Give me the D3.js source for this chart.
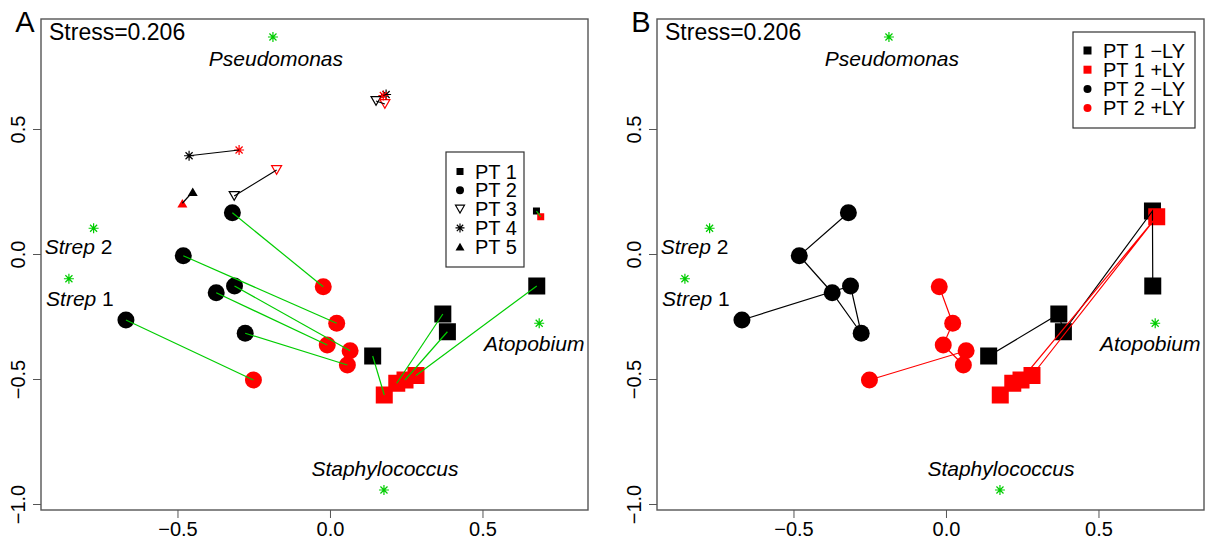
<!DOCTYPE html>
<html>
<head>
<meta charset="utf-8">
<script src="https://cdn.jsdelivr.net/npm/d3@7"></script>
<style>
    body { margin: 0; background: #fff; }
    svg { display: block; font-family: "Liberation Sans", Arial, sans-serif; }
</style>
</head>
<body>
<svg id="drawing_region"></svg>
<script>
// NMDS scores, one [x, y] pair per sample, -LY / +LY paired by index
const pt1Minus = [[0.140,-0.408],[0.370,-0.240],[0.385,-0.311],[0.677,0.172],[0.678,-0.128]];
const pt1Plus  = [[0.178,-0.564],[0.219,-0.517],[0.246,-0.504],[0.691,0.149],[0.282,-0.486]];
const pt2Minus = [[-0.320,0.165],[-0.481,-0.007],[-0.373,-0.155],[-0.278,-0.317],[-0.313,-0.128],[-0.669,-0.264]];
const pt2Plus  = [[-0.022,-0.131],[0.022,-0.277],[-0.009,-0.364],[0.057,-0.444],[0.066,-0.387],[-0.251,-0.504]];
const pt3Minus = [[-0.314,0.232],[0.151,0.612]];
const pt3Plus  = [[-0.175,0.336],[0.180,0.600]];
const pt4Minus = [[-0.462,0.393],[0.184,0.638]];
const pt4Plus  = [[-0.298,0.416],[0.175,0.634]];
const pt5Minus = [[-0.450,0.249]];
const pt5Plus  = [[-0.484,0.203]];

const speciesNames = ["Pseudomonas","Strep 2","Strep 1","Atopobium","Staphylococcus"];
const speciesX = [-0.187,-0.775,-0.856,0.686,0.177];
const speciesY = [0.868,0.103,-0.099,-0.277,-0.944];

const legendLabelsA = ["PT 1","PT 2","PT 3","PT 4","PT 5"];
const legendLabelsB = ["PT 1 \u2212LY","PT 1 +LY","PT 2 \u2212LY","PT 2 +LY"];
const xTicks = [-0.5, 0.0, 0.5];
const yTicks = [-1.0, -0.5, 0.0, 0.5];
const stressText = "Stress=0.206";

const patients = [
    {shape:'square', minus:pt1Minus, plus:pt1Plus},
    {shape:'circle', minus:pt2Minus, plus:pt2Plus},
    {shape:'triDown', minus:pt3Minus, plus:pt3Plus},
    {shape:'star', minus:pt4Minus, plus:pt4Plus},
    {shape:'triUp', minus:pt5Minus, plus:pt5Plus}
];

// label placement around each species star (pixels)
const labelOffset = {
    "Pseudomonas":[3,21], "Strep 2":[-15,18], "Strep 1":[11,19],
    "Atopobium":[-5,20], "Staphylococcus":[1,-22]
};

const GREEN = '#00cd00', RED = '#ff0000', BLACK = '#000000';
const BIG = 17;

const svg = d3.select('#drawing_region')
    .attr('width', 1210)
    .attr('height', 543);

const config = { width: 547, height: 491, top: 19 };

const xscale = d3.scaleLinear().domain([-0.9475, 0.846]).range([0, config.width]);
const yscale = d3.scaleLinear().domain([-1.024, 0.94]).range([config.height, 0]);

function starPath(r) {
    const a = r * 0.7071;
    return `M${-r},0L${r},0M0,${-r}L0,${r}M${-a},${-a}L${a},${a}M${-a},${a}L${a},${-a}`;
}

function drawMark(g, shape, x, y, size, color) {
    if (shape === 'square') {
        g.append('rect')
            .attr('x', x - size/2).attr('y', y - size/2)
            .attr('width', size).attr('height', size)
            .attr('fill', color);
    } else if (shape === 'circle') {
        g.append('circle')
            .attr('cx', x).attr('cy', y).attr('r', size/2)
            .attr('fill', color);
    } else if (shape === 'triDown') {
        const h = size * 0.866;
        g.append('path')
            .attr('d', `M${x - size/2},${y - h/2}L${x + size/2},${y - h/2}L${x},${y + h/2}Z`)
            .attr('fill', 'none').attr('stroke', color).attr('stroke-width', 1.2);
    } else if (shape === 'triUp') {
        const h = size * 0.866;
        g.append('path')
            .attr('d', `M${x - size/2},${y + h/2}L${x + size/2},${y + h/2}L${x},${y - h/2}Z`)
            .attr('fill', color);
    } else if (shape === 'star') {
        g.append('path')
            .attr('transform', `translate(${x},${y})`)
            .attr('d', starPath(size/2))
            .attr('fill', 'none').attr('stroke', color).attr('stroke-width', 1.2);
    }
}

function drawPanel(left, letter, mode) {
    svg.append('text')
        .attr('x', left - 16).attr('y', 32)
        .attr('text-anchor', 'middle')
        .style('font-size', '29px')
        .text(letter);

    const chart = svg.append('g')
        .attr('transform', `translate(${left}, ${config.top})`);

    // axes
    const xaxis = d3.axisBottom(xscale).tickValues(xTicks).tickSize(8).tickFormat(d3.format('.1f'));
    const xg = chart.append('g')
        .attr('transform', `translate(0, ${config.height})`)
        .call(xaxis);
    xg.select('.domain').remove();
    xg.selectAll('line').attr('stroke', '#555');
    xg.selectAll('text').attr('y', 12).style('font-size', '20px').attr('fill', '#000');

    const yaxis = d3.axisLeft(yscale).tickValues(yTicks).tickSize(8).tickFormat(d3.format('.1f'));
    const yg = chart.append('g').call(yaxis);
    yg.select('.domain').remove();
    yg.selectAll('line').attr('stroke', '#555');
    yg.selectAll('text')
        .attr('x', 0).attr('y', -23).attr('dy', null)
        .attr('transform', 'rotate(-90)')
        .attr('text-anchor', 'middle')
        .attr('dominant-baseline', 'central')
        .style('font-size', '20px').attr('fill', '#000');

    chart.append('rect')
        .attr('width', config.width).attr('height', config.height)
        .attr('fill', 'none').attr('stroke', '#555').attr('stroke-width', 1.4);

    chart.append('text')
        .attr('x', 8).attr('y', 21)
        .style('font-size', '23px')
        .text(stressText);

    // species
    speciesNames.forEach((name, i) => {
        const sx = xscale(speciesX[i]), sy = yscale(speciesY[i]);
        drawMark(chart, 'star', sx, sy, 10, GREEN);
        const off = labelOffset[name];
        const t = chart.append('text')
            .attr('x', sx + off[0]).attr('y', sy + off[1])
            .attr('text-anchor', 'middle')
            .attr('dominant-baseline', 'central')
            .style('font-size', '21px');
        if (name.startsWith('Strep')) {
            t.append('tspan').style('font-style', 'italic').text('Strep');
            t.append('tspan').text(name.slice(5));
        } else {
            t.style('font-style', 'italic').text(name);
        }
    });

    const marks = chart.append('g');
    const lines = chart.append('g');

    if (mode === 'A') {
        patients.forEach((p, pi) => {
            const big = pi < 2;
            p.minus.forEach((d, i) => {
                const e = p.plus[i];
                let size = big ? BIG : (p.shape === 'square' ? 7 : 10);
                if (pi === 0 && i === 3) size = 7;
                drawMark(marks, p.shape, xscale(d[0]), yscale(d[1]), size, BLACK);
                drawMark(marks, p.shape, xscale(e[0]), yscale(e[1]), size, RED);
                lines.append('line')
                    .attr('x1', xscale(d[0])).attr('y1', yscale(d[1]))
                    .attr('x2', xscale(e[0])).attr('y2', yscale(e[1]))
                    .attr('stroke', big ? GREEN : BLACK)
                    .attr('stroke-width', 1.2);
            });
        });

        const lg = chart.append('g').attr('transform', 'translate(405, 133)');
        lg.append('rect').attr('width', 78).attr('height', 115)
            .attr('fill', '#fff').attr('stroke', '#333').attr('stroke-width', 1.2);
        legendLabelsA.forEach((label, i) => {
            const y = 19.5 + i * 18.8;
            const sizes = [7, 8, 9, 9, 9];
            drawMark(lg, patients[i].shape, 14, y, sizes[i], BLACK);
            lg.append('text').attr('x', 29).attr('y', y)
                .attr('dominant-baseline', 'central')
                .style('font-size', '20px').text(label);
        });
    } else {
        const line = d3.line().x(d => xscale(d[0])).y(d => yscale(d[1]));
        const series = [
            {shape:'square', data:pt1Minus, color:BLACK},
            {shape:'square', data:pt1Plus, color:RED},
            {shape:'circle', data:pt2Minus, color:BLACK},
            {shape:'circle', data:pt2Plus, color:RED}
        ];
        series.forEach(s => {
            s.data.forEach(d => drawMark(marks, s.shape, xscale(d[0]), yscale(d[1]), BIG, s.color));
            lines.append('path').datum(s.data)
                .attr('d', line)
                .attr('fill', 'none')
                .attr('stroke', s.color)
                .attr('stroke-width', 1.2);
        });

        const lg = chart.append('g').attr('transform', 'translate(416, 13)');
        lg.append('rect').attr('width', 122).attr('height', 96)
            .attr('fill', '#fff').attr('stroke', '#333').attr('stroke-width', 1.2);
        legendLabelsB.forEach((label, i) => {
            const y = 18.5 + i * 19.2;
            drawMark(lg, series[i].shape, 14.5, y, 8, series[i].color);
            lg.append('text').attr('x', 30).attr('y', y)
                .attr('dominant-baseline', 'central')
                .style('font-size', '20px').text(label);
        });
    }
}

drawPanel(41, 'A', 'A');
drawPanel(657, 'B', 'B');
</script>
</body>
</html>
